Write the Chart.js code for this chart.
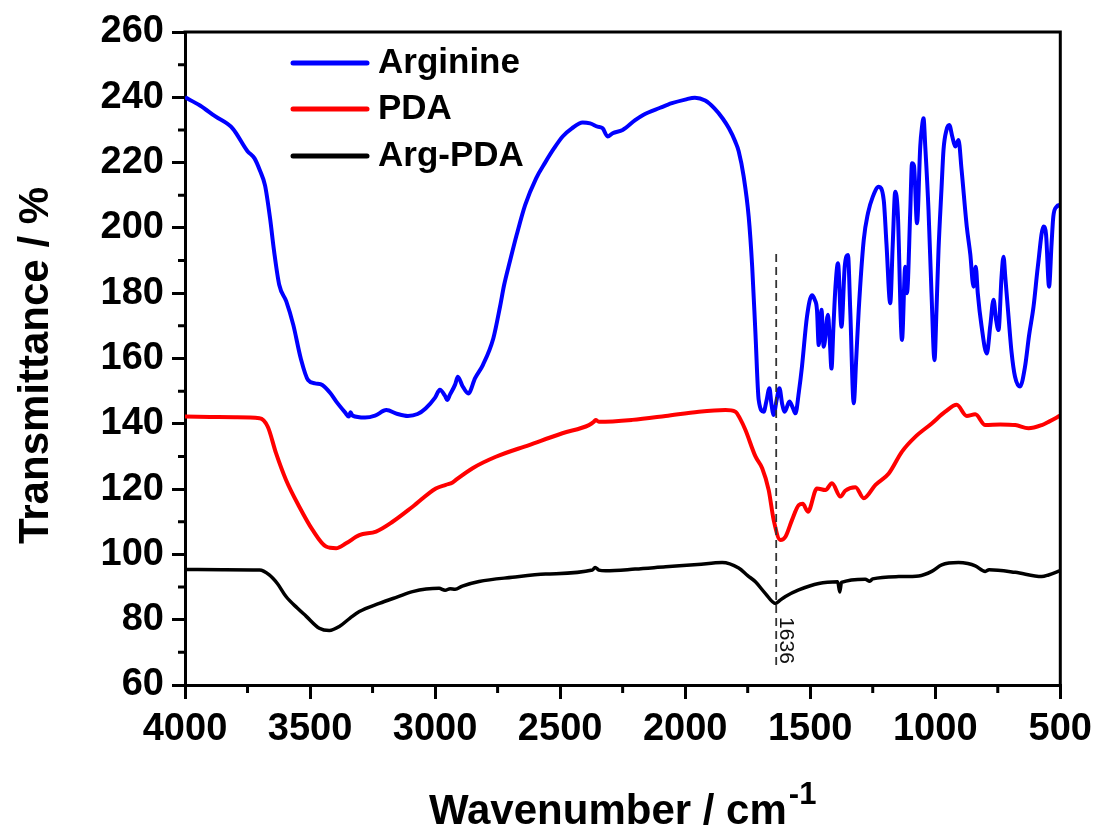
<!DOCTYPE html>
<html>
<head>
<meta charset="utf-8">
<script src="https://cdn.jsdelivr.net/npm/chart.js@4.4.1/dist/chart.umd.min.js"></script>
<style>
  html, body { margin: 0; padding: 0; background: #fff; }
  #wrap { width: 1100px; height: 830px; position: relative; }
</style>
</head>
<body>
<div id="wrap"><canvas id="c"></canvas></div>
<script>
// ---------------- DATA ----------------
const seriesNames = ["Arginine", "PDA", "Arg-PDA"];

const argWn = [4000,3940,3880,3810,3750,3722,3700,3680,3660,3644,3623,3595,3567,3537,3508,3480,3451,3420,3395,3360,3345,3338,3330,3280,3240,3195,3150,3109,3070,3038,3000,2981,2960,2952,2940,2920,2909,2890,2867,2840,2809,2767,2740,2724,2700,2674,2640,2596,2560,2524,2490,2453,2410,2380,2350,2330,2310,2290,2250,2200,2168,2100,2053,2000,1961,1920,1883,1850,1825,1800,1786,1766,1746,1732,1719,1706,1686,1675,1663,1655,1646,1635,1623,1612,1602,1583,1570,1559,1545,1533,1513,1493,1482,1473,1466,1460,1455,1446,1429,1422,1415,1407,1399,1389,1375,1362,1349,1340,1326,1316,1306,1286,1269,1250,1226,1206,1195,1180,1170,1160,1150,1133,1120,1113,1100,1093,1085,1073,1060,1053,1047,1040,1027,1015,1003,995,987,975,967,955,944,932,920,907,895,874,860,847,838,830,815,794,780,767,757,747,735,727,720,707,695,681,661,641,625,607,590,567,557,545,535,528,515,505,500];
const argT  = [240,237.5,234.2,230.5,223.5,221.3,217.5,213,203,193,182.5,177.5,170.3,160,153.4,152.4,151.9,149.5,146.8,143.5,142.2,143.5,142.5,141.9,142.5,144.2,143,142.4,143,144.7,148,150.4,148.5,147.3,149,152,154.4,151.5,149.3,154,158,166.2,176,182.5,190,197.8,207,215.2,220,224.4,228,230.5,232.3,232,231,230.5,228,229,230,233,234.6,236.8,238.2,239.3,239.9,239,236.6,233.5,230.5,226.5,223.5,215.7,203.4,188.1,167.7,147.3,143.7,147,150.9,146,142.7,147,150.9,146,143.7,146.8,145,143.2,150,157.5,172.8,179.4,178,174.9,164.1,170,174.9,163.6,173.4,166,156.9,170,182,189.2,169.7,188.1,191.7,175,146.3,160,174.9,196.3,204.5,209.5,212.6,208.5,195,176.9,195,211.1,205,165.7,188.1,180,205,219.8,219,201.4,225,231,233.6,225,205.5,180,159.5,175,193.2,212,223.9,230,231.5,228,224.9,226.9,218,200.4,192,182,188.1,180,170,161.5,170,178,172,168.7,185,191.2,185,172.8,162,154.4,151.4,157.5,167,175.9,188,200.4,198,182,195,203.4,206.5,207,206.5];

const pdaWn = [4000,3900,3800,3702,3669,3636,3596,3543,3490,3436,3396,3356,3303,3236,3170,3090,2997,2957,2930,2917,2850,2757,2624,2491,2385,2365,2358,2345,2212,2078,1945,1839,1799,1780,1759,1719,1692,1666,1646,1619,1599,1573,1546,1530,1509,1473,1439,1413,1379,1360,1319,1286,1239,1186,1133,1080,1014,960,914,874,840,800,740,680,627,574,547,500];
const pdaT  = [142.2,142.1,142,141.7,139.1,131,122.8,114.6,107.5,102.4,101.9,103.4,105.9,107,110,114.6,120.2,121.3,122,122.8,126.4,129.9,133.5,137.1,139.6,140.6,141.2,140.6,141.2,142.4,143.7,144.2,143.7,141.5,138.1,130,126.4,119.7,110.5,104.4,105.4,110.5,115.1,115.5,113.1,120.2,119.7,121.8,117.7,119.5,120.6,117.2,121.3,124.8,131.5,136,140.1,143.7,145.8,142.4,142.9,139.6,139.8,139.6,138.6,139.6,140.6,142.5];

const apWn = [4000,3850,3702,3663,3630,3596,3550,3516,3463,3423,3383,3340,3303,3223,3150,3090,2984,2960,2940,2920,2891,2824,2691,2558,2371,2360,2345,2318,2200,2078,1950,1852,1786,1750,1719,1679,1639,1620,1599,1546,1466,1390,1382,1375,1280,1262,1250,1146,1066,1014,974,907,870,840,800,785,680,574,547,500];
const apT  = [95.4,95.3,95.2,93.7,91,87.1,83.5,81.1,77.4,76.7,77.9,80.5,82.5,85,87,88.6,89.6,89,89.5,89.3,90.3,91.7,93,94,95.2,96,95.2,95,95.5,96.2,96.9,97.5,95.8,93.5,91.6,88,85,86,87.1,89.1,91.1,91.6,88.5,91.4,92.4,91.8,92.5,93.2,93.4,94.8,96.8,97.5,97.2,96.5,94.8,95.3,94.5,93.2,93.7,95];

// marker line at 1636 cm-1
const markerWn = [1636, 1636];
const markerT  = [192, 65];
const markerLabel = "1636";

const xTickStep = 500, xMin = 500, xMax = 4000;
const yTickStep = 20, yMin = 60, yMax = 260;
const xTitle = "Wavenumber / cm";
const xTitleSup = "-1";
const yTitle = "Transmittance / %";

// ---------------- CHART ----------------
const FONT = "'Liberation Sans', Arial, Helvetica, sans-serif";
const pts = (xs, ys) => xs.map((x, i) => ({ x: x, y: ys[i] }));

const decorPlugin = {
  id: 'decor',
  afterDraw(chart) {
    const ctx = chart.ctx;
    const a = chart.chartArea;
    const xs = chart.scales.x, ys = chart.scales.y;
    ctx.save();
    // frame top & right
    ctx.strokeStyle = '#000';
    ctx.lineWidth = 3;
    ctx.beginPath();
    ctx.moveTo(a.left - 1.5, a.top);
    ctx.lineTo(a.right, a.top);
    ctx.lineTo(a.right, a.bottom + 1.5);
    ctx.stroke();
    // minor ticks
    ctx.lineWidth = 3;
    ctx.beginPath();
    for (let v = yMin + yTickStep / 2; v < yMax; v += yTickStep) {
      const p = ys.getPixelForValue(v);
      ctx.moveTo(a.left, p); ctx.lineTo(a.left - 7, p);
    }
    for (let v = xMin + xTickStep / 2; v < xMax; v += xTickStep) {
      const p = xs.getPixelForValue(v);
      ctx.moveTo(p, a.bottom); ctx.lineTo(p, a.bottom + 8);
    }
    ctx.stroke();

    // axis titles
    ctx.fillStyle = '#000';
    ctx.font = "bold 42px " + FONT;
    ctx.textBaseline = 'alphabetic';
    ctx.textAlign = 'left';
    const w1 = ctx.measureText(xTitle).width;
    ctx.font = "bold 31px " + FONT;
    const w2 = ctx.measureText(xTitleSup).width;
    const cx = (a.left + a.right) / 2;
    const startX = cx - (w1 + w2 + 2) / 2;
    ctx.font = "bold 42px " + FONT;
    ctx.fillText(xTitle, startX, 824);
    ctx.font = "bold 31px " + FONT;
    ctx.fillText(xTitleSup, startX + w1 + 2, 804);

    ctx.save();
    ctx.translate(48, (a.top + a.bottom) / 2 + 7);
    ctx.rotate(-Math.PI / 2);
    ctx.font = "bold 42px " + FONT;
    ctx.textAlign = 'center';
    ctx.fillText(yTitle, 0, 0);
    ctx.restore();

    // legend
    const rows = [63, 109, 156];
    let r = 0;
    chart.data.datasets.forEach(ds => {
      if (!ds.inLegend) return;
      const y = rows[r++];
      ctx.strokeStyle = ds.borderColor;
      ctx.lineWidth = 5;
      ctx.lineCap = 'round';
      ctx.beginPath();
      ctx.moveTo(293, y); ctx.lineTo(367, y);
      ctx.stroke();
      ctx.fillStyle = '#000';
      ctx.font = "bold 35px " + FONT;
      ctx.textAlign = 'left';
      ctx.textBaseline = 'middle';
      ctx.fillText(ds.label, 378, y);
    });

    // marker label
    ctx.save();
    const mx = xs.getPixelForValue(markerWn[0]);
    const my = ys.getPixelForValue(80.8);
    ctx.translate(mx + 10, my);
    ctx.rotate(Math.PI / 2);
    ctx.font = "21px " + FONT;
    ctx.fillStyle = '#111';
    ctx.textAlign = 'left';
    ctx.textBaseline = 'middle';
    ctx.fillText(markerLabel, 0, 0);
    ctx.restore();

    ctx.restore();
  }
};

const lineDs = (label, xs, ys, color, width, order) => ({
  label: label,
  data: pts(xs, ys),
  borderColor: color,
  backgroundColor: color,
  borderWidth: width,
  pointRadius: 0,
  fill: false,
  cubicInterpolationMode: 'monotone',
  inLegend: true,
  order: order
});

new Chart(document.getElementById('c'), {
  type: 'line',
  data: {
    datasets: [
      lineDs(seriesNames[0], argWn, argT, '#0000ff', 4, 3),
      lineDs(seriesNames[1], pdaWn, pdaT, '#ff0000', 4, 2),
      lineDs(seriesNames[2], apWn, apT, '#000000', 3.5, 1),
      {
        label: 'marker',
        data: pts(markerWn, markerT),
        borderColor: '#333',
        borderWidth: 1.8,
        borderDash: [8, 5],
        pointRadius: 0,
        tension: 0,
        fill: false,
        inLegend: false,
        order: 0
      }
    ]
  },
  options: {
    responsive: true,
    maintainAspectRatio: false,
    animation: false,
    events: [],
    layout: { padding: { top: 32, right: 38, left: 0, bottom: 0 } },
    plugins: { legend: { display: false }, tooltip: { enabled: false }, title: { display: false } },
    scales: {
      x: {
        type: 'linear',
        reverse: true,
        min: xMin, max: xMax,
        afterFit: s => { s.height = 145; },
        ticks: {
          stepSize: xTickStep,
          autoSkip: false, maxRotation: 0,
          color: '#000',
          padding: 8,
          callback: v => String(v),
          font: { family: FONT, size: 38, weight: 'bold' }
        },
        grid: { drawOnChartArea: false, drawTicks: true, tickLength: 14, tickWidth: 3, tickColor: '#000', color: '#000', lineWidth: 3 },
        border: { display: true, color: '#000', width: 3 }
      },
      y: {
        type: 'linear',
        min: yMin, max: yMax,
        afterFit: s => { s.width = 185; },
        ticks: {
          stepSize: yTickStep,
          color: '#000',
          padding: 8,
          callback: v => String(v),
          font: { family: FONT, size: 38, weight: 'bold' }
        },
        grid: { drawOnChartArea: false, drawTicks: true, tickLength: 13, tickWidth: 3, tickColor: '#000', color: '#000', lineWidth: 3 },
        border: { display: true, color: '#000', width: 3 }
      }
    }
  },
  plugins: [decorPlugin]
});
</script>
</body>
</html>
